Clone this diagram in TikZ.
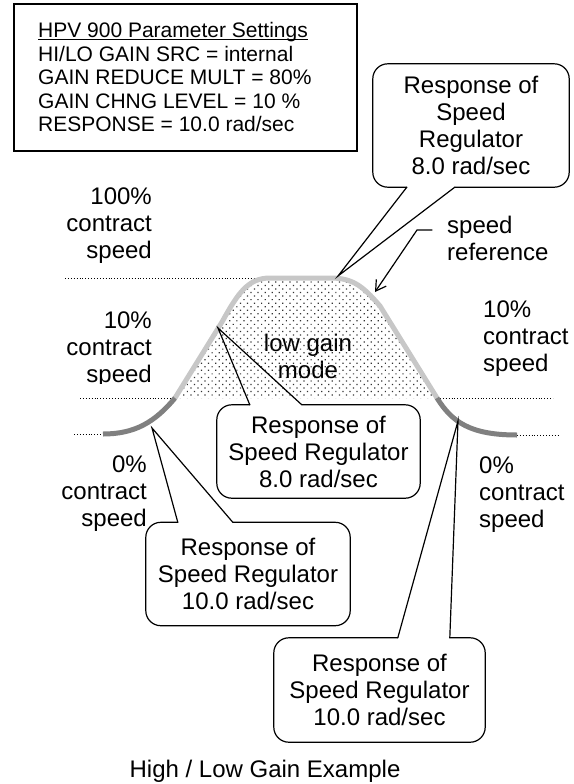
\documentclass[tikz,border=0pt]{standalone}
\usepackage{fontspec}
\setmainfont{Liberation Sans}
\usetikzlibrary{calc}
\usetikzlibrary{arrows.meta}
\usetikzlibrary{patterns.meta}

\definecolor{reflight}{gray}{0.78}
\definecolor{refdark}{gray}{0.50}

% underline the way a word processor does it
\newcommand\wordline[1]{\leavevmode\setbox0\hbox{#1}\rlap{\rule[-2.2pt]{\wd0}{1.1pt}}\box0}

\tikzset{
  lbl/.style={inner sep=0pt, font=\fontsize{24}{27}\selectfont},
  bubbletext/.style={inner sep=0pt, align=center, font=\fontsize{24}{27}\selectfont},
  bubble/.style={line width=1.2pt, rounded corners=15pt, line cap=round},
  pointer/.style={line width=1.2pt, line cap=round, line join=miter},
  guide/.style={dotted, line width=0.9pt},
  hilo/.style={line width=5pt, color=refdark},
  lolo/.style={line width=5pt, color=reflight}
}

\begin{document}
\begin{tikzpicture}[x=1pt,y=-1pt]
 			\useasboundingbox (0,0) rectangle (573,784);

 			% parameter box
 			\draw[line width=1.4pt] (14,4) rectangle (357,151);
 			\node[anchor=west, align=left, inner sep=0pt, font=\fontsize{21}{23.5}\selectfont] (params) at (38,77)
 					{\wordline{HPV 900 Parameter Settings}\\
 					 HI/LO GAIN SRC = internal\\
 					 GAIN REDUCE MULT = 80\%\\
 					 GAIN CHNG LEVEL = 10 \%\\
 					 RESPONSE = 10.0 rad/sec};

 			% points on the speed reference
 			\coordinate (tipA)   at (338,276);
 			\coordinate (tipB)   at (218,328);
 			\coordinate (tipC)   at (152,428);
 			\coordinate (tipD)   at (458,421);
 			\coordinate (tipRef) at (375,292);

 			% low gain region (the dots lie over the text)
 			\node[bubbletext] (lowgain) at (308,356) {low gain\\mode};
 			\fill[pattern={Dots[distance=5pt, angle=45, radius=0.85pt]}, pattern color=black!80]
 					(175,398) -- (222,322) .. controls (238,293) and (248,278) .. (270,278)
 					-- (330,278) .. controls (352,278) and (362,285) .. (380,306) -- (437,398) -- cycle;

 			% contract speed levels
 			\draw[guide] (65,278)  -- (262,278);
 			\draw[guide] (80,398)  -- (177,398);
 			\draw[guide] (437,398) -- (553,398);
 			\draw[guide] (74,434)  -- (103,434);
 			\draw[guide] (517,435) -- (560,435);

 			% speed reference
 			\draw[lolo] (175,398) -- (222,322) .. controls (238,293) and (248,278) .. (270,278)
 					-- (330,278) .. controls (352,278) and (362,285) .. (380,306) -- (437,398);
 			\draw[hilo] (103,434) .. controls (135,434) and (155,422) .. (175,398);
 			\draw[hilo] (437,398) .. controls (452,422) and (470,435) .. (517,435);

 			% labels
 			\node[lbl, align=right, anchor=east] (full) at (152,226) {100\%\\contract\\speed};
 			\begin{scope}
 				\clip (0,290) rectangle (200,383);
 				\node[lbl, align=right, anchor=east] (tenL) at (152,350) {10\%\\contract\\speed};
 			\end{scope}
 			\node[lbl, align=left, anchor=west]  (tenR)  at (483,339) {10\%\\contract\\speed};
 			\node[lbl, align=right, anchor=east] (zeroL) at (147,494) {0\%\\contract\\speed};
 			\node[lbl, align=left, anchor=west]  (zeroR) at (479,495) {0\%\\contract\\speed};
 			\node[lbl, align=left, anchor=west]  (speedref) at (447,238) {speed\\reference};

 			\draw[pointer, -{Straight Barb[length=10pt, width=12pt]}]
 					([xshift=-15pt, yshift=8pt]speedref.west) -- ++(-15,0) -- (tipRef);

 			% callouts
 			\node[bubbletext, minimum width=196pt, minimum height=123pt] (respA) at (471,125.5)
 					{Response of\\Speed\\Regulator\\8.0 rad/sec};
 			\draw[bubble] ($(respA.south west)+(34,0)$) -- (respA.south west) -- (respA.north west)
 					-- (respA.north east) -- (respA.south east) -- ($(respA.south west)+(82,0)$);
 			\draw[pointer] ($(respA.south west)+(34,0)$) -- (tipA) -- ($(respA.south west)+(82,0)$);

 			\node[bubbletext, minimum width=203pt, minimum height=93pt] (respB) at (318.5,451.5)
 					{Response of\\Speed Regulator\\8.0 rad/sec};
 			\draw[bubble] ($(respB.north west)+(85,0)$) -- (respB.north east) -- (respB.south east)
 					-- (respB.south west) -- (respB.north west) -- ($(respB.north west)+(33,0)$);
 			\draw[pointer] ($(respB.north west)+(33,0)$) -- (tipB) -- ($(respB.north west)+(85,0)$);

 			\node[bubbletext, minimum width=204pt, minimum height=103pt] (respC) at (248,574)
 					{Response of\\Speed Regulator\\10.0 rad/sec};
 			\draw[bubble] ($(respC.north west)+(87,0)$) -- (respC.north east) -- (respC.south east)
 					-- (respC.south west) -- (respC.north west) -- ($(respC.north west)+(32,0)$);
 			\draw[pointer] ($(respC.north west)+(32,0)$) -- (tipC) -- ($(respC.north west)+(87,0)$);

 			\node[bubbletext, minimum width=211pt, minimum height=104pt] (respD) at (379.5,690)
 					{Response of\\Speed Regulator\\10.0 rad/sec};
 			\draw[bubble] ($(respD.north west)+(176,0)$) -- (respD.north east) -- (respD.south east)
 					-- (respD.south west) -- (respD.north west) -- ($(respD.north west)+(124,0)$);
 			\draw[pointer] ($(respD.north west)+(124,0)$) -- (tipD) -- ($(respD.north west)+(176,0)$);

 			\node[lbl, anchor=base] (caption) at (265,777) {High / Low Gain Example};
 		\end{tikzpicture}
\end{document}
